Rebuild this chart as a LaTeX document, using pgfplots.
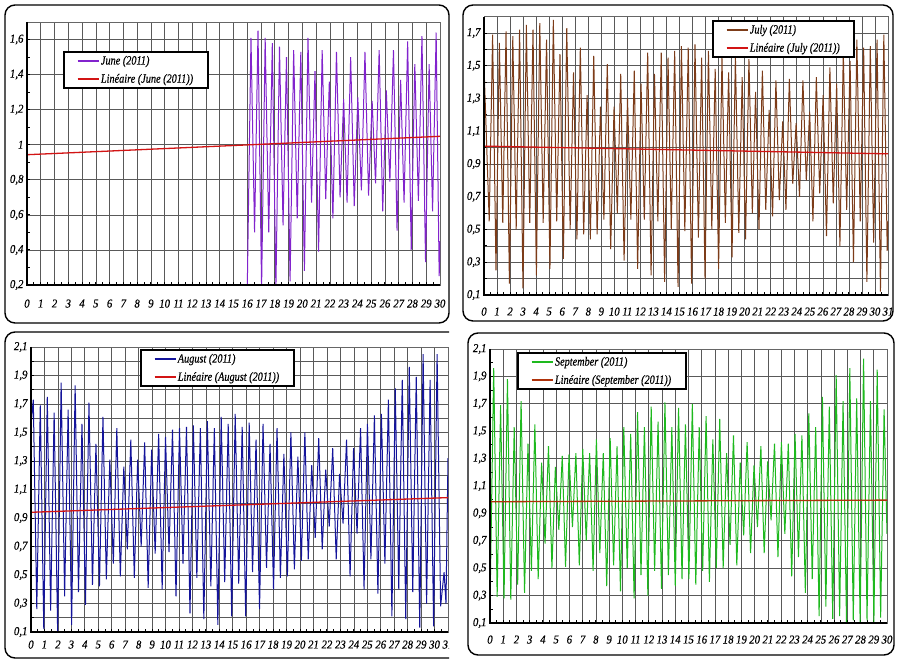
\documentclass[border=0pt]{standalone}
\usepackage{fontspec}
\setmainfont{Liberation Serif}[FakeStretch=0.9, FakeBold=0.4]
\newfontfamily\legfont{Liberation Serif}[FakeStretch=0.82, FakeBold=0.4]
\usepackage{pgfplots}
\pgfplotsset{compat=1.18}
\definecolor{junec}{RGB}{130,35,205}
\definecolor{julyc}{RGB}{125,60,25}
\definecolor{augc}{RGB}{20,20,155}
\definecolor{sepc}{RGB}{30,185,30}
\definecolor{trendc}{RGB}{210,20,20}
\definecolor{septrend}{RGB}{175,50,10}
\pgfplotsset{
  tide/.style={
    scale only axis,
    xmin=0,
    tick pos=left,
    minor x tick num=1,
    xmajorgrids, ymajorgrids,
    major grid style={black!65, line width=0.65pt},
    minor grid style={black!65, line width=0.65pt},
    axis line style={black!60, line width=0.6pt},
    major tick style={black, line width=0.9pt},
    minor tick style={black, line width=0.8pt},
    major tick length=3pt, minor tick length=2.5pt,
    tick label style={font=\fontsize{12}{13}\selectfont\itshape},
    /pgf/number format/assume math mode=true,
    /pgf/number format/use comma,
    legend cell align=left,
    legend style={draw=black, line width=1.8pt, fill=white,
      font=\legfont\fontsize{12.5}{14}\selectfont\itshape, anchor=north west,
      inner xsep=13pt, inner ysep=2.5pt, row sep=5pt, nodes={inner sep=1.5pt}},
    legend image code/.code={\draw[##1, line width=1.6pt] (0pt,0pt) -- (21pt,0pt);},
    after end axis/.code={\draw[black, line width=1.4pt] (rel axis cs:0,1) -- (rel axis cs:0,0) -- (rel axis cs:1,0);},
  },
}
\begin{document}
\begin{tikzpicture}
\path[use as bounding box, fill=white] (0pt,0pt) rectangle (897pt,660pt);
% panel frames
\draw[black, line width=1.4pt, rounded corners=10pt] (5pt,337pt) rectangle (449pt,655pt);
\draw[black, line width=1.4pt, rounded corners=10pt] (463pt,339pt) rectangle (893pt,655pt);
\draw[black, line width=1.4pt, rounded corners=10pt] (468pt,5pt) rectangle (894pt,327pt);

% ---------------- June ----------------
\begin{axis}[tide, at={(27pt,375pt)}, anchor=south west, width=413pt, height=263pt,
  xmax=30, ymin=0.2, ymax=1.7, xtick={0,...,30},
  ytick={0.2,0.4,0.6,0.8,1,1.2,1.4,1.6},
  minor ytick={0.3,0.5,0.7,0.9,1.1,1.3,1.5},
  xticklabel style={yshift=-11pt},
  legend style={at={(0.087,0.89)}}]
\addplot[junec, line width=1pt] coordinates {
(16.00,0.18) (16.27,1.61) (16.53,0.50) (16.78,1.65) (17.04,0.18) (17.30,1.61) (17.56,0.50) (17.82,1.58) (18.08,0.18) (18.34,1.56) (18.60,0.54) (18.85,1.50) (19.11,0.22) (19.37,1.54) (19.63,0.58) (19.89,1.53) (20.15,0.28) (20.41,1.61) (20.67,0.67) (20.92,1.42) (21.18,0.39) (21.44,1.54) (21.70,0.69) (21.96,1.36) (22.22,0.58) (22.48,1.53) (22.74,0.70) (23.00,1.26) (23.25,0.67) (23.51,1.50) (23.77,0.65) (24.03,1.27) (24.29,0.74) (24.55,1.53) (24.81,0.71) (25.07,1.25) (25.32,0.78) (25.58,1.54) (25.84,0.62) (26.10,1.31) (26.36,0.79) (26.62,1.54) (26.88,0.51) (27.14,1.37) (27.39,0.67) (27.65,1.59) (27.91,0.40) (28.17,1.46) (28.43,0.68) (28.69,1.62) (28.95,0.33) (29.21,1.46) (29.46,0.62) (29.72,1.64) (29.94,0.25) (30.00,0.45)
};
\addlegendentry{June (2011)}
\addplot[trendc, line width=1.3pt] coordinates {(0,0.943) (30,1.048)};
\addlegendentry{Linéaire (June (2011))}
\end{axis}

% ---------------- July ----------------
\begin{axis}[tide, at={(484pt,365pt)}, anchor=south west, width=404pt, height=278.4pt,
  xmax=31, ymin=0.1, ymax=1.8, xtick={0,...,31},
  ytick={0.1,0.3,0.5,0.7,0.9,1.1,1.3,1.5,1.7},
  minor ytick={0.2,0.4,0.6,0.8,1,1.2,1.4,1.6,1.8}, yminorgrids,
  xticklabel style={yshift=-9pt},
  legend style={at={(0.564,0.988)}}]
\addplot[julyc, line width=1pt] coordinates {
(0.00,1.50) (0.40,0.55) (0.66,1.69) (0.92,0.25) (1.18,1.64) (1.44,0.54) (1.69,1.71) (1.95,0.17) (2.21,1.68) (2.47,0.50) (2.73,1.72) (2.99,0.14) (3.25,1.75) (3.51,0.54) (3.76,1.72) (4.02,0.22) (4.28,1.76) (4.54,0.54) (4.80,1.66) (5.06,0.26) (5.32,1.78) (5.58,0.55) (5.83,1.57) (6.09,0.32) (6.35,1.73) (6.61,0.50) (6.87,1.46) (7.13,0.44) (7.39,1.61) (7.65,0.47) (7.91,1.32) (8.16,0.44) (8.42,1.56) (8.68,0.47) (8.94,1.25) (9.20,0.56) (9.46,1.51) (9.72,0.38) (9.98,1.25) (10.23,0.60) (10.49,1.45) (10.75,0.31) (11.01,1.30) (11.27,0.56) (11.53,1.47) (11.79,0.26) (12.05,1.39) (12.30,0.56) (12.56,1.58) (12.82,0.22) (13.08,1.45) (13.34,0.55) (13.60,1.58) (13.86,0.18) (14.12,1.55) (14.37,0.50) (14.63,1.59) (14.89,0.15) (15.15,1.62) (15.41,0.49) (15.67,1.61) (15.93,0.17) (16.19,1.63) (16.45,0.45) (16.70,1.55) (16.96,0.20) (17.22,1.59) (17.48,0.50) (17.74,1.48) (18.00,0.26) (18.26,1.55) (18.52,0.54) (18.77,1.46) (19.03,0.33) (19.29,1.56) (19.55,0.48) (19.81,1.43) (20.07,0.44) (20.33,1.54) (20.59,0.60) (20.84,1.34) (21.10,0.50) (21.36,1.47) (21.62,0.62) (21.88,1.23) (22.14,0.58) (22.40,1.41) (22.66,0.68) (22.92,1.16) (23.17,0.62) (23.43,1.42) (23.69,0.78) (23.95,1.15) (24.21,0.70) (24.47,1.41) (24.73,0.80) (24.99,1.22) (25.24,0.55) (25.50,1.43) (25.76,0.72) (26.02,1.32) (26.28,0.46) (26.54,1.49) (26.80,0.66) (27.06,1.39) (27.31,0.40) (27.57,1.58) (27.83,0.62) (28.09,1.53) (28.35,0.30) (28.61,1.66) (28.87,0.55) (29.13,1.61) (29.38,0.18) (29.64,1.62) (29.90,0.42) (30.16,1.66) (30.42,0.12) (30.68,1.69) (30.94,0.37) (31.00,0.55)
};
\addlegendentry{July (2011)}
\addplot[trendc, line width=1.3pt] coordinates {(0,1.009) (31,0.962)};
\addlegendentry{Linéaire (July (2011))}
\end{axis}

% ---------------- August ----------------
\begin{scope}
\clip (0pt,0pt) rectangle (449pt,331pt);
\draw[black, line width=1.4pt, rounded corners=10pt] (5pt,2pt) rectangle (470pt,328pt);
\begin{axis}[tide, at={(31pt,28pt)}, anchor=south west, width=417pt, height=285pt,
  xmax=31, ymin=0.1, ymax=2.1, xtick={0,...,31},
  ytick={0.1,0.3,0.5,0.7,0.9,1.1,1.3,1.5,1.7,1.9,2.1},
  minor ytick={0.2,0.4,0.6,0.8,1,1.2,1.4,1.6,1.8,2}, yminorgrids,
  xticklabel style={yshift=-5pt},
  legend style={at={(0.261,0.993)}}]
\addplot[augc, line width=1pt] coordinates {
(0.00,1.55) (0.17,1.73) (0.43,0.26) (0.69,1.69) (0.95,0.12) (1.21,1.75) (1.46,0.25) (1.72,1.64) (1.98,0.10) (2.24,1.85) (2.50,0.35) (2.76,1.66) (3.02,0.15) (3.28,1.83) (3.53,0.38) (3.79,1.56) (4.05,0.29) (4.31,1.71) (4.57,0.43) (4.83,1.42) (5.09,0.42) (5.35,1.61) (5.60,0.47) (5.86,1.31) (6.12,0.58) (6.38,1.53) (6.64,0.49) (6.90,1.26) (7.16,0.68) (7.42,1.45) (7.68,0.48) (7.93,1.31) (8.19,0.70) (8.45,1.43) (8.71,0.41) (8.97,1.38) (9.23,0.65) (9.49,1.49) (9.75,0.40) (10.00,1.47) (10.26,0.66) (10.52,1.52) (10.78,0.35) (11.04,1.53) (11.30,0.58) (11.56,1.54) (11.82,0.23) (12.07,1.55) (12.33,0.48) (12.59,1.53) (12.85,0.19) (13.11,1.58) (13.37,0.42) (13.63,1.53) (13.89,0.15) (14.14,1.61) (14.40,0.45) (14.66,1.56) (14.92,0.21) (15.18,1.63) (15.44,0.44) (15.70,1.54) (15.96,0.21) (16.22,1.57) (16.47,0.52) (16.73,1.45) (16.99,0.26) (17.25,1.56) (17.51,0.55) (17.77,1.42) (18.03,0.40) (18.29,1.53) (18.54,0.48) (18.80,1.35) (19.06,0.49) (19.32,1.50) (19.58,0.54) (19.84,1.33) (20.10,0.60) (20.36,1.50) (20.61,0.61) (20.87,1.27) (21.13,0.76) (21.39,1.46) (21.65,0.68) (21.91,1.24) (22.17,0.84) (22.43,1.39) (22.69,0.61) (22.94,1.21) (23.20,0.86) (23.46,1.45) (23.72,0.49) (23.98,1.39) (24.24,0.79) (24.50,1.53) (24.76,0.40) (25.01,1.56) (25.27,0.61) (25.53,1.62) (25.79,0.37) (26.05,1.63) (26.31,0.58) (26.57,1.73) (26.83,0.21) (27.08,1.81) (27.34,0.40) (27.60,1.87) (27.86,0.19) (28.12,1.96) (28.38,0.38) (28.64,1.89) (28.90,0.13) (29.15,2.05) (29.41,0.30) (29.67,1.87) (29.93,0.14) (30.19,2.05) (30.45,0.28) (30.71,0.52) (30.85,0.30) (31.00,1.32)
};
\addlegendentry{August (2011)}
\addplot[trendc, line width=1.3pt] coordinates {(0,0.94) (31,1.043)};
\addlegendentry{Linéaire (August (2011))}
\end{axis}
\end{scope}

% ---------------- September ----------------
\begin{axis}[tide, at={(490pt,37pt)}, anchor=south west, width=397pt, height=274pt,
  xmax=30, ymin=0.1, ymax=2.1, xtick={0,...,30},
  ytick={0.1,0.3,0.5,0.7,0.9,1.1,1.3,1.5,1.7,1.9,2.1},
  minor ytick={0.2,0.4,0.6,0.8,1,1.2,1.4,1.6,1.8,2},
  xticklabel style={yshift=-9pt},
  legend style={at={(0.068,0.989)}}]
\addplot[sepc, line width=1pt] coordinates {
(0.00,0.22) (0.28,1.96) (0.54,0.29) (0.80,1.69) (1.06,0.28) (1.32,1.88) (1.57,0.27) (1.83,1.53) (2.09,0.38) (2.35,1.72) (2.61,0.32) (2.87,1.41) (3.13,0.48) (3.39,1.55) (3.64,0.42) (3.90,1.27) (4.16,0.68) (4.42,1.39) (4.68,0.50) (4.94,1.24) (5.20,0.78) (5.46,1.32) (5.71,0.51) (5.97,1.33) (6.23,0.80) (6.49,1.34) (6.75,0.52) (7.01,1.37) (7.27,0.70) (7.53,1.34) (7.79,0.48) (8.04,1.44) (8.30,0.61) (8.56,1.34) (8.82,0.37) (9.08,1.45) (9.34,0.52) (9.60,1.39) (9.86,0.33) (10.11,1.53) (10.37,0.50) (10.63,1.48) (10.89,0.28) (11.15,1.64) (11.41,0.45) (11.67,1.53) (11.93,0.30) (12.18,1.68) (12.44,0.48) (12.70,1.57) (12.96,0.35) (13.22,1.71) (13.48,0.45) (13.74,1.53) (14.00,0.37) (14.25,1.67) (14.51,0.42) (14.77,1.55) (15.03,0.42) (15.29,1.70) (15.55,0.38) (15.81,1.53) (16.07,0.48) (16.33,1.61) (16.58,0.40) (16.84,1.44) (17.10,0.50) (17.36,1.59) (17.62,0.50) (17.88,1.34) (18.14,0.67) (18.40,1.47) (18.65,0.52) (18.91,1.27) (19.17,0.74) (19.43,1.42) (19.69,0.61) (19.95,1.25) (20.21,0.80) (20.47,1.39) (20.72,0.61) (20.98,1.28) (21.24,0.85) (21.50,1.41) (21.76,0.58) (22.02,1.42) (22.28,0.75) (22.54,1.41) (22.80,0.44) (23.05,1.48) (23.31,0.58) (23.57,1.47) (23.83,0.32) (24.09,1.63) (24.35,0.42) (24.61,1.53) (24.87,0.15) (25.12,1.75) (25.38,0.22) (25.64,1.68) (25.90,0.13) (26.16,1.91) (26.42,0.15) (26.68,1.72) (26.94,0.10) (27.19,1.96) (27.45,0.12) (27.71,1.74) (27.97,0.10) (28.23,2.03) (28.49,0.12) (28.75,1.72) (29.01,0.10) (29.26,1.95) (29.52,0.14) (29.78,1.66) (30.00,0.75)
};
\addlegendentry{September (2011)}
\addplot[septrend, line width=1.3pt] coordinates {(0,0.985) (30,0.997)};
\addlegendentry{Linéaire (September (2011))}
\end{axis}
\end{tikzpicture}
\end{document}
